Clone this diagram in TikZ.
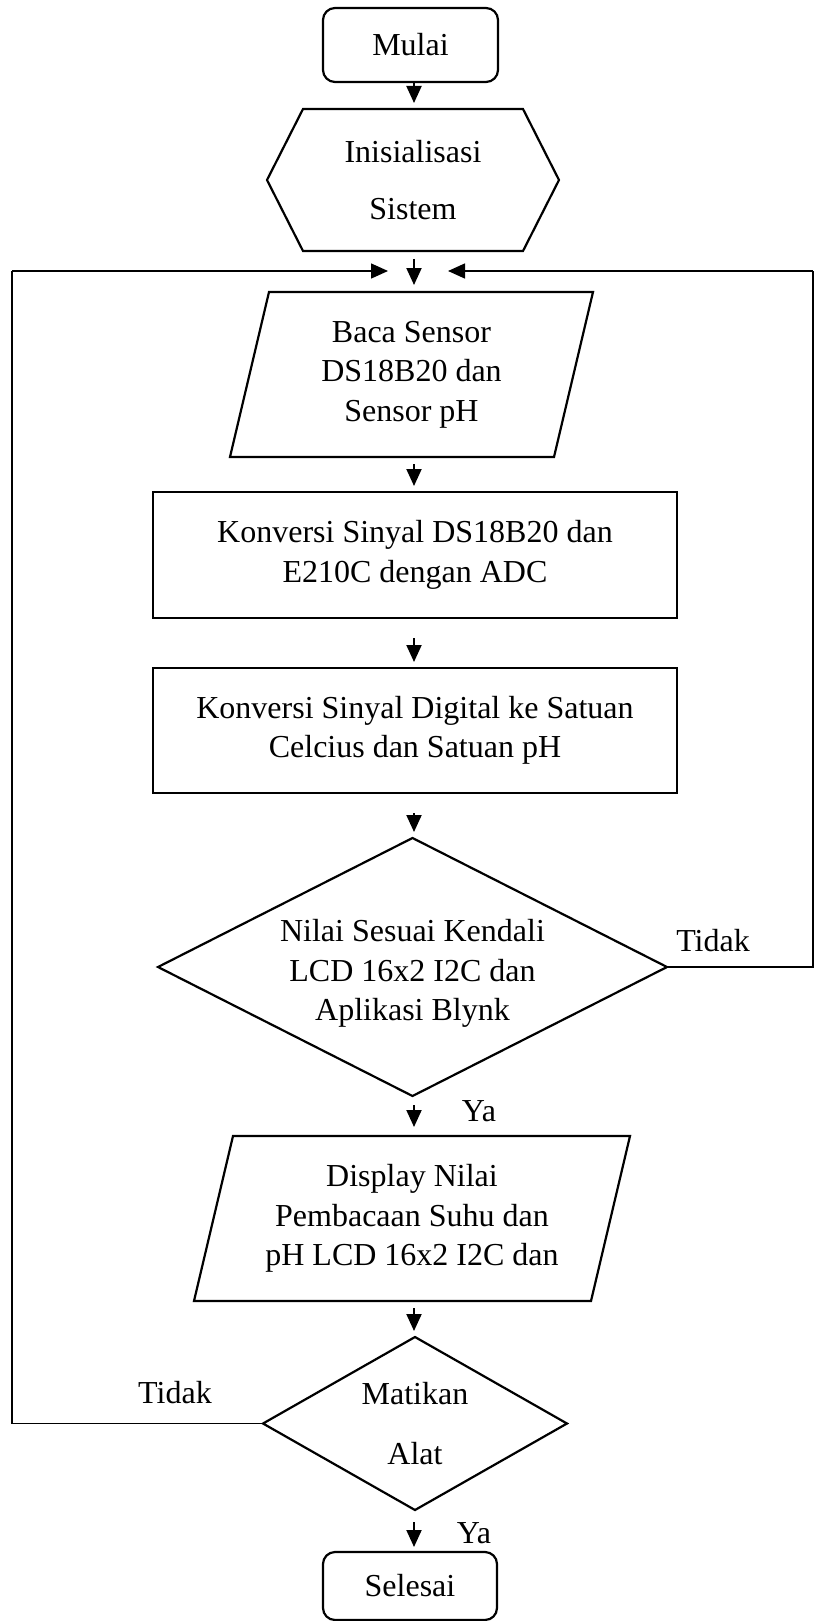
\documentclass[tikz,border=0pt]{standalone}
\usepackage{fontspec}
\setmainfont{Liberation Serif}
\usetikzlibrary{arrows.meta,calc}
\begin{document}
\begin{tikzpicture}[x=1pt,y=-1pt,
  txt/.style={inner sep=0pt, outer sep=0pt, align=center, font=\fontsize{32}{39.5}\selectfont},
  shp/.style={draw=black, line width=2.2pt, line join=miter},
  term/.style={txt, shp, rounded corners=12pt},
  arr/.style={line width=2pt, -{Triangle[length=17pt,width=15pt]}},
  loopln/.style={line width=1.5pt},
  lbl/.style={inner sep=0pt, font=\fontsize{32}{39.5}\selectfont}
]
\useasboundingbox (0,0) rectangle (815,1621);
\coordinate (ax) at (414,0);

% nodes
\node[term, minimum width=175pt, minimum height=74pt] (mulai) at (410.5,45) {Mulai};
\node[txt, minimum width=292pt, minimum height=142pt] (hex) at (413,180) {Inisialisasi\\[17pt]Sistem};
\node[txt, minimum width=363pt, minimum height=165pt] (p1) at (411.5,374.5) {Baca Sensor\\DS18B20 dan\\Sensor pH};
\node[txt, shp, minimum width=524pt, minimum height=126pt] (r1) at (415,555) {Konversi Sinyal DS18B20 dan\\E210C dengan ADC};
\node[txt, shp, minimum width=524pt, minimum height=125pt] (r2) at (415,730.5) {Konversi Sinyal Digital ke Satuan\\Celcius dan Satuan pH};
\node[txt, minimum width=509pt, minimum height=258pt] (d1) at (412.5,967) {\rule{0pt}{0pt}\\[-4pt]Nilai Sesuai Kendali\\LCD 16x2 I2C dan\\Aplikasi Blynk};
\node[txt, minimum width=436pt, minimum height=165pt] (p2) at (412,1218.5) {Display Nilai\\Pembacaan Suhu dan\\pH LCD 16x2 I2C dan};
\node[txt, minimum width=304pt, minimum height=173pt] (d2) at (415,1423.5) {Matikan\\[21pt]Alat};
\node[term, minimum width=174pt, minimum height=68pt] (sel) at (410,1586) {Selesai};

% outlines
\draw[shp] (hex.west) -- ($(hex.north west)+(36,0)$) -- ($(hex.north east)+(-36,0)$) -- (hex.east)
  -- ($(hex.south east)+(-36,0)$) -- ($(hex.south west)+(36,0)$) -- cycle;
\draw[shp] ($(p1.north west)+(39,0)$) -- (p1.north east) -- ($(p1.south east)+(-39,0)$) -- (p1.south west) -- cycle;
\draw[shp] ($(p2.north west)+(39,0)$) -- (p2.north east) -- ($(p2.south east)+(-39,0)$) -- (p2.south west) -- cycle;
\draw[shp] (d1.north) -- (d1.east) -- (d1.south) -- (d1.west) -- cycle;
\draw[shp] (d2.north) -- (d2.east) -- (d2.south) -- (d2.west) -- cycle;

% arrows
\draw[arr, shorten >=6pt] (mulai.south -| ax) -- (hex.north -| ax);
\draw[arr, shorten <=8pt, shorten >=7pt] (hex.south -| ax) -- (p1.north -| ax);
\draw[arr, shorten <=7pt, shorten >=6pt] (p1.south -| ax) -- (r1.north -| ax);
\draw[arr, shorten <=20pt, shorten >=6pt] (r1.south -| ax) -- (r2.north -| ax);
\draw[arr, shorten <=20pt, shorten >=6pt] (r2.south -| ax) -- (d1.north -| ax);
\draw[arr, shorten <=9pt, shorten >=9pt] (d1.south -| ax) -- (p2.north -| ax);
\draw[arr, shorten <=7pt, shorten >=6pt] (p2.south -| ax) -- (d2.north -| ax);
\draw[arr, shorten <=12pt, shorten >=5pt] (d2.south -| ax) -- (sel.north -| ax);

% loop-backs
\coordinate (lx) at (12,271);
\coordinate (rx) at (813,271);
\coordinate (ltip) at (388,271);
\coordinate (rtip) at (448,271);
\draw[loopln] (d2.west) -| (lx);
\draw[loopln, -{Triangle[length=17pt,width=15pt]}] (lx) -- (ltip);
\draw[loopln] (d1.east) -| (rx);
\draw[loopln, -{Triangle[length=17pt,width=15pt]}] (rx) -- (rtip);

% labels
\node[lbl] (t1) at (713,941) {Tidak};
\node[lbl] (t2) at (175,1393) {Tidak};
\node[lbl] (y1) at (479,1111) {Ya};
\node[lbl] (y2) at (474,1533) {Ya};
\end{tikzpicture}
\end{document}
